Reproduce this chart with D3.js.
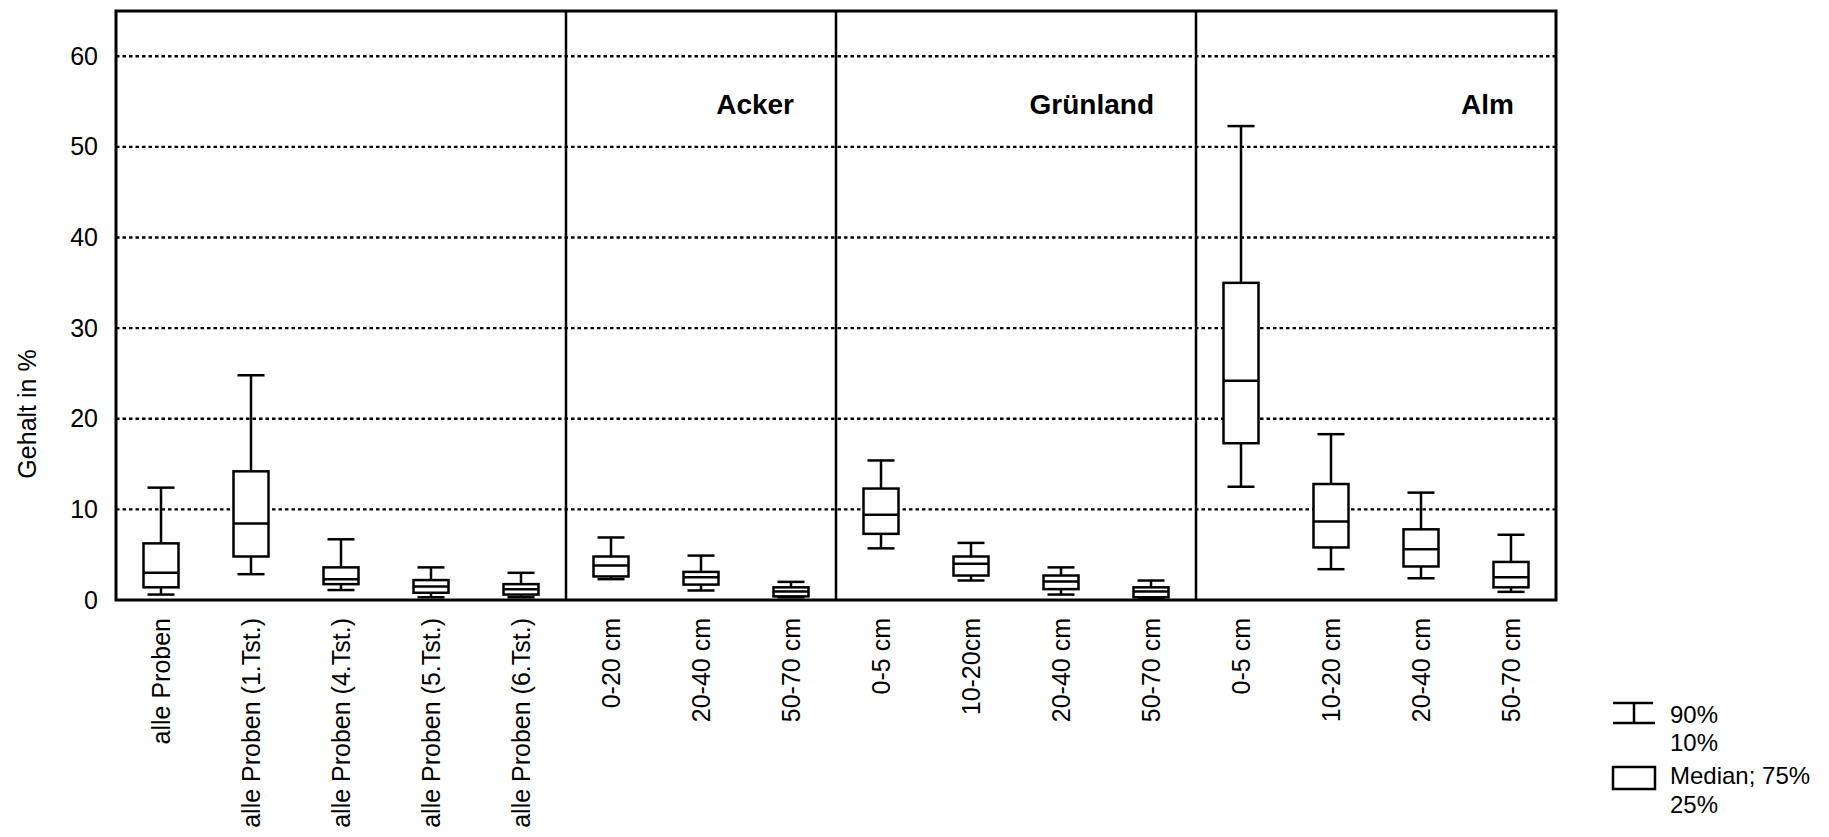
<!DOCTYPE html>
<html>
<head>
<meta charset="utf-8">
<script src="https://cdn.jsdelivr.net/npm/d3@7"></script>
<style>
    body { margin: 0; background: #fff; }
    text { font-family: "Liberation Sans", Arial, sans-serif; fill: #000; }
</style>
</head>
<body>
<svg id="chart" width="1829" height="837"></svg>
<script>
// Kategorien (x-Achse) und Gruppen
var categories = ["alle Proben", "alle Proben (1.Tst.)", "alle Proben (4.Tst.)", "alle Proben (5.Tst.)", "alle Proben (6.Tst.)",
    "0-20 cm", "20-40 cm", "50-70 cm",
    "0-5 cm", "10-20cm", "20-40 cm", "50-70 cm",
    "0-5 cm", "10-20 cm", "20-40 cm", "50-70 cm"];
var groupNames = ["", "Acker", "Grünland", "Alm"];
var groupSizes = [5, 3, 4, 4];

// Perzentile (Gehalt in %)
var p10 = [0.6, 2.85, 1.1, 0.3, 0.3, 2.3, 1.05, 0.3, 5.7, 2.15, 0.6, 0.2, 12.5, 3.4, 2.4, 0.9];
var q25 = [1.4, 4.8, 1.75, 0.8, 0.6, 2.6, 1.7, 0.4, 7.3, 2.7, 1.2, 0.3, 17.3, 5.8, 3.7, 1.4];
var median = [3.0, 8.45, 2.3, 1.5, 1.2, 3.8, 2.5, 0.95, 9.4, 4.0, 2.05, 0.95, 24.2, 8.65, 5.6, 2.5];
var q75 = [6.25, 14.2, 3.6, 2.2, 1.75, 4.8, 3.1, 1.4, 12.3, 4.8, 2.7, 1.4, 35.0, 12.8, 7.8, 4.2];
var p90 = [12.4, 24.8, 6.7, 3.6, 3.0, 6.9, 4.9, 2.0, 15.4, 6.3, 3.6, 2.15, 52.3, 18.3, 11.85, 7.2];

var yTicks = [0, 10, 20, 30, 40, 50, 60];
var gridTicks = [10, 20, 30, 40, 50, 60];

var rect = { left: 116, top: 11, width: 1440, height: 589 };
var svg = d3.select("#chart");
var g = svg.append("g").attr("transform", "translate(" + rect.left + "," + rect.top + ")");

var x = d3.scaleBand().domain(d3.range(categories.length)).range([0, rect.width]);
var y = d3.scaleLinear().domain([0, 65]).range([rect.height, 0]);

var boxW = 35, capW = 27;

// Gitterlinien
g.append("g").selectAll("line")
    .data(gridTicks)
    .enter().append("line")
    .attr("x1", 0).attr("x2", rect.width)
    .attr("y1", d => y(d)).attr("y2", d => y(d))
    .attr("stroke", "#000")
    .attr("stroke-width", 2.4)
    .attr("stroke-dasharray", "3.5,3");

// Trennlinien zwischen den Gruppen
var bounds = d3.cumsum(groupSizes);
g.append("g").selectAll("line")
    .data(bounds.slice(0, -1))
    .enter().append("line")
    .attr("x1", d => x(d)).attr("x2", d => x(d))
    .attr("y1", 0).attr("y2", rect.height)
    .attr("stroke", "#000")
    .attr("stroke-width", 2.5);

// Gruppennamen
g.append("g").selectAll("text")
    .data(groupNames.map((n, i) => ({ name: n, end: bounds[i] })).filter(d => d.name))
    .enter().append("text")
    .attr("x", d => x(d.end - 1) + x.bandwidth() - 42)
    .attr("y", 103)
    .attr("text-anchor", "end")
    .style("font-size", "28px")
    .style("font-weight", "bold")
    .text(d => d.name);

// Boxplots
var boxes = g.append("g").selectAll("g")
    .data(d3.range(categories.length))
    .enter().append("g")
    .attr("transform", i => "translate(" + (x(i) + x.bandwidth() / 2) + ",0)");

boxes.append("line")
    .attr("y1", i => y(p10[i])).attr("y2", i => y(p90[i]))
    .attr("stroke", "#000").attr("stroke-width", 2.5);

boxes.append("line")
    .attr("x1", -capW / 2).attr("x2", capW / 2)
    .attr("y1", i => y(p90[i])).attr("y2", i => y(p90[i]))
    .attr("stroke", "#000").attr("stroke-width", 2.5);

boxes.append("line")
    .attr("x1", -capW / 2).attr("x2", capW / 2)
    .attr("y1", i => y(p10[i])).attr("y2", i => y(p10[i]))
    .attr("stroke", "#000").attr("stroke-width", 2.5);

boxes.append("rect")
    .attr("x", -boxW / 2).attr("width", boxW)
    .attr("y", i => y(q75[i]))
    .attr("height", i => y(q25[i]) - y(q75[i]))
    .attr("fill", "#fff")
    .attr("stroke", "#000").attr("stroke-width", 2.5);

boxes.append("line")
    .attr("x1", -boxW / 2).attr("x2", boxW / 2)
    .attr("y1", i => y(median[i])).attr("y2", i => y(median[i]))
    .attr("stroke", "#000").attr("stroke-width", 2.5);

// Rahmen
g.append("rect")
    .attr("width", rect.width).attr("height", rect.height)
    .attr("fill", "none")
    .attr("stroke", "#000").attr("stroke-width", 3);

// y-Achse
var yAxis = d3.axisLeft(y).tickValues(yTicks).tickSize(0).tickPadding(18);
g.append("g").call(yAxis)
    .call(a => a.select(".domain").remove())
    .selectAll("text")
    .style("font-size", "25px")
    .style("font-family", "Liberation Sans, Arial, sans-serif");

svg.append("text")
    .attr("transform", "translate(36,414) rotate(-90)")
    .attr("text-anchor", "middle")
    .style("font-size", "25px")
    .text("Gehalt in %");

// x-Achse (gedrehte Beschriftung)
g.append("g").selectAll("text")
    .data(d3.range(categories.length))
    .enter().append("text")
    .attr("transform", i => "translate(" + (x(i) + x.bandwidth() / 2) + "," + (rect.height + 18) + ") rotate(-90)")
    .attr("text-anchor", "end")
    .attr("dy", "0.35em")
    .style("font-size", "25px")
    .text(i => categories[i]);

// Legende
var legend = svg.append("g").attr("transform", "translate(1613,703)");
legend.append("line").attr("x1", 0).attr("x2", 40).attr("y1", 0).attr("y2", 0)
    .attr("stroke", "#000").attr("stroke-width", 2.5);
legend.append("line").attr("x1", 0).attr("x2", 42).attr("y1", 20).attr("y2", 20)
    .attr("stroke", "#000").attr("stroke-width", 2.5);
legend.append("line").attr("x1", 21).attr("x2", 21).attr("y1", 0).attr("y2", 20)
    .attr("stroke", "#000").attr("stroke-width", 2.5);
legend.append("rect").attr("x", 0).attr("y", 64).attr("width", 42).attr("height", 22)
    .attr("fill", "#fff").attr("stroke", "#000").attr("stroke-width", 2.5);

var legendText = [["90%", 20], ["10%", 48], ["Median; 75%", 81], ["25%", 110]];
legend.selectAll("text.lbl")
    .data(legendText)
    .enter().append("text")
    .attr("class", "lbl")
    .attr("x", 57)
    .attr("y", d => d[1])
    .style("font-size", "24px")
    .text(d => d[0]);
</script>
</body>
</html>
